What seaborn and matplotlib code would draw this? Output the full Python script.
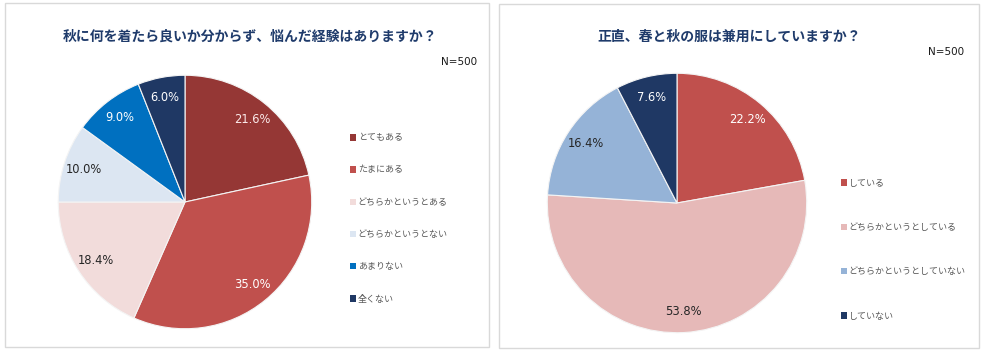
import numpy as np
import seaborn as sns
import matplotlib.pyplot as plt
from matplotlib.patches import Rectangle

# left chart
q1_title = '秋に何を着たら良いか分からず、悩んだ経験はありますか？'
q1_labels = ['とてもある', 'たまにある', 'どちらかというとある', 'どちらかというとない', 'あまりない', '全くない']
q1_values = [21.6, 35.0, 18.4, 10.0, 9.0, 6.0]
q1_colors = ['#953735', '#C0504D', '#F2DCDB', '#DCE6F2', '#0070C0', '#1F3864']
q1_text = ['#FBEAEA', 'white', '#262626', '#262626', 'white', 'white']

# right chart
q2_title = '正直、春と秋の服は兼用にしていますか？'
q2_labels = ['している', 'どちらかというとしている', 'どちらかというとしていない', 'していない']
q2_values = [22.2, 53.8, 16.4, 7.6]
q2_colors = ['#C0504D', '#E6B9B8', '#95B3D7', '#1F3864']
q2_text = ['white', '#262626', '#262626', 'white']

n_label = 'N=500'

sns.set_theme(style='white')
plt.rcParams['font.family'] = ['Noto Sans CJK JP', 'DejaVu Sans']

W, H = 982, 353
fig = plt.figure(figsize=(W / 100, H / 100), dpi=100)
fig.patch.set_facecolor('white')


def px(x, y, w=0, h=0):
    # pixel box (from top-left) -> figure fraction
    return [x / W, 1 - (y + h) / H, w / W, h / H]


def draw_panel(box, center, r, values, colors, txtcolors, labels, title, title_xy,
               n_xy, leg_x, leg_y, leg_space):
    b = px(*box)
    fig.patches.append(Rectangle((b[0], b[1]), b[2], b[3], transform=fig.transFigure,
                                 fill=False, edgecolor='#D9D9D9', linewidth=1.0))
    ax = fig.add_axes(px(center[0] - r, center[1] - r, 2 * r, 2 * r))
    wedges, texts, autotexts = ax.pie(
        values, colors=colors, startangle=90, counterclock=False,
        autopct='%.1f%%', pctdistance=0.84,
        wedgeprops=dict(edgecolor='#F4F4F4', linewidth=0.8),
        textprops=dict(fontsize=8.3, family=['DejaVu Sans']))
    for t, c in zip(autotexts, txtcolors):
        t.set_color(c)
    ax.set_xlim(-1.01, 1.01)
    ax.set_ylim(-1.01, 1.01)
    ax.axis('off')

    fig.text(title_xy[0] / W, 1 - title_xy[1] / H, title, ha='center', va='center',
             fontsize=10, fontweight='bold', color='#1F3B6B')
    fig.text(n_xy[0] / W, 1 - n_xy[1] / H, n_label, ha='right', va='center',
             fontsize=7.5, family=['DejaVu Sans'], color='#1A1A1A')

    leg = fig.legend(wedges, labels, loc='upper left',
                     bbox_to_anchor=(leg_x / W, 1 - leg_y / H),
                     frameon=False, fontsize=6.5, handlelength=0.7, handleheight=0.7,
                     handletextpad=0.2, labelspacing=leg_space, borderpad=0,
                     labelcolor='#595959')
    for h in leg.legend_handles:
        h.set_edgecolor('none')


draw_panel((5, 3, 484, 344), (185, 202), 128, q1_values, q1_colors, q1_text, q1_labels,
           q1_title, (250, 37), (477, 62), 345, 129, 2.57)
draw_panel((499, 4, 480, 344), (677, 203), 131, q2_values, q2_colors, q2_text, q2_labels,
           q2_title, (729, 37), (964, 52), 836, 174, 3.92)

fig.savefig('out.png', dpi=100, facecolor='white')
